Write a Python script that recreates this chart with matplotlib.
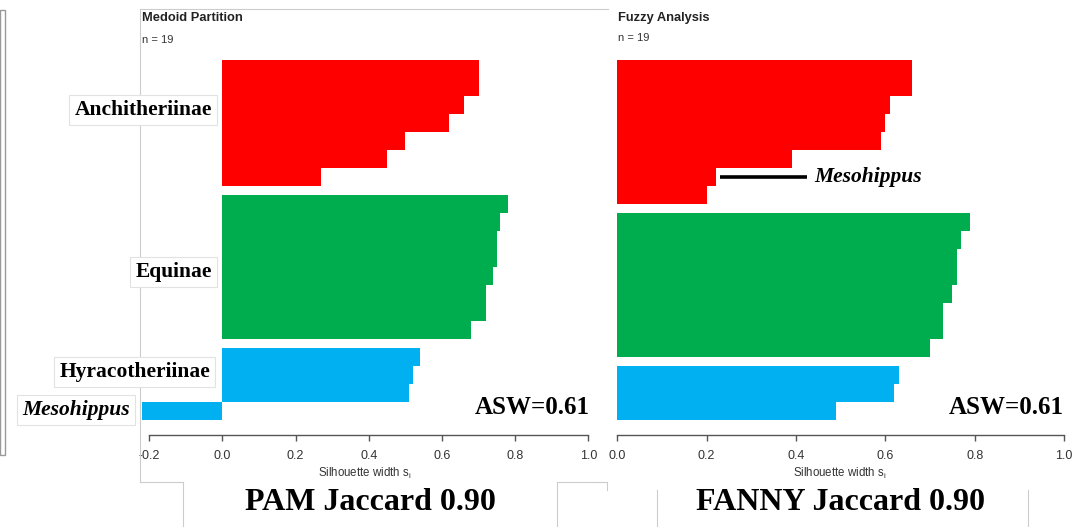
import matplotlib
matplotlib.use("Agg")
import matplotlib.pyplot as plt
from matplotlib.lines import Line2D

# silhouette widths, per cluster, top to bottom
pam_anchi = [0.70, 0.70, 0.66, 0.62, 0.50, 0.45, 0.27]
pam_equi = [0.78, 0.76, 0.75, 0.75, 0.74, 0.72, 0.72, 0.68]
pam_hyra = [0.54, 0.52, 0.51, -0.22]

fanny_anchi = [0.66, 0.66, 0.61, 0.60, 0.59, 0.39, 0.22, 0.20]
fanny_equi = [0.79, 0.77, 0.76, 0.76, 0.75, 0.73, 0.73, 0.70]
fanny_hyra = [0.63, 0.62, 0.49]

cluster_colors = ["#FF0000", "#00AD4E", "#00B0F0"]
ticks_pam = [-0.2, 0.0, 0.2, 0.4, 0.6, 0.8, 1.0]
ticks_fanny = [0.0, 0.2, 0.4, 0.6, 0.8, 1.0]

W, H = 1082, 527
fig = plt.figure(figsize=(W / 100, H / 100), dpi=100)

serif = "Liberation Serif"
sans = "Liberation Sans"


def px(x, y):
    return x / W, 1 - y / H


def box(x0, x1, y_top, y_bot):
    return [x0 / W, 1 - y_bot / H, (x1 - x0) / W, (y_bot - y_top) / H]


def sil_plot(ax, groups, xlim, ticks):
    y = 0
    for vals, col in zip(groups, cluster_colors):
        pos = [y + i + 0.5 for i in range(len(vals))]
        ax.barh(pos, vals, height=1.0, color=col, linewidth=0)
        y += len(vals) + 0.5
    ax.set_xlim(*xlim)
    ax.set_ylim(20.833, -0.556)
    for s in ["top", "right", "left"]:
        ax.spines[s].set_visible(False)
    ax.spines["bottom"].set_bounds(ticks[0], ticks[-1])
    ax.spines["bottom"].set_color("#555555")
    ax.spines["bottom"].set_linewidth(1.0)
    ax.set_yticks([])
    ax.set_xticks(ticks)
    ax.set_xticklabels(["%.1f" % t for t in ticks], fontfamily=sans, fontsize=9, color="#333333")
    ax.tick_params(axis="x", direction="out", length=4, width=1.0, color="#555555", pad=7)
    ax.patch.set_alpha(0)


# PAM panel
ax1 = fig.add_axes(box(130.8, 588.3, 50, 435))
sil_plot(ax1, [pam_anchi, pam_equi, pam_hyra], (-0.25, 1.0), ticks_pam)

# FANNY panel
ax2 = fig.add_axes(box(617.3, 1064, 50, 435))
sil_plot(ax2, [fanny_anchi, fanny_equi, fanny_hyra], (0.0, 1.0), ticks_fanny)

# mesohippus pointer in fanny panel
meso_y = len(fanny_anchi) - 1.5
meso_x = fanny_anchi[-2] + 0.01
ax2.plot([meso_x, meso_x + 0.195], [meso_y, meso_y], color="black", lw=2.6, solid_capstyle="butt")
ax2.text(meso_x + 0.21, meso_y, "Mesohippus", fontfamily=serif, fontstyle="italic",
         fontweight="bold", fontsize=15.5, va="center", ha="left")

# panel headers
fig.text(*px(142, 18), "Medoid Partition", fontfamily=sans, fontweight="bold", fontsize=9.3,
         color="#222222", va="center", ha="left")
fig.text(*px(142, 40), "n = 19", fontfamily=sans, fontsize=8, color="#333333", va="center", ha="left")
fig.text(*px(618, 18), "Fuzzy Analysis", fontfamily=sans, fontweight="bold", fontsize=9.3,
         color="#222222", va="center", ha="left")
fig.text(*px(618, 38), "n = 19", fontfamily=sans, fontsize=8, color="#333333", va="center", ha="left")

# axis titles
for xc in (365, 840):
    fig.text(*px(xc, 473), r"Silhouette width s$_\mathregular{i}$", fontfamily=sans, fontsize=8.3,
             color="#333333", ha="center", va="center")

# ASW
fig.text(*px(590, 408), "ASW=0.61", fontfamily=serif, fontweight="bold", fontsize=18,
         ha="right", va="center")
fig.text(*px(1064, 408), "ASW=0.61", fontfamily=serif, fontweight="bold", fontsize=18,
         ha="right", va="center")

# screenshot frame lines
frame_col = "#cccccc"
frame_lines = [
    ((140, 600), (9, 9)), ((140, 140), (9, 482)), ((140, 183), (482, 482)), ((183, 183), (482, 527)),
    ((557, 600), (482, 482)), ((557, 557), (482, 527)),
    ((600, 608), (9, 9)), ((600, 607), (482, 482)), ((607, 607), (482, 490)),
    ((657, 657), (490, 527)), ((1028, 1028), (490, 527)),
]
for xs, ys in frame_lines:
    fig.add_artist(Line2D([x / W for x in xs], [1 - y / H for y in ys], color=frame_col, lw=0.8))

# left edge box
fig.add_artist(plt.Rectangle(px(0, 455), 5 / W, 445 / H, transform=fig.transFigure,
                             fill=False, ec="#999999", lw=1.0))

# group labels
lab_box = dict(boxstyle="square,pad=0.25", fc="white", ec="#e2e2e2", lw=0.8)
fig.text(*px(212, 110), "Anchitheriinae", fontfamily=serif, fontweight="bold", fontsize=15.5,
         ha="right", va="center", bbox=lab_box)
fig.text(*px(212, 272), "Equinae", fontfamily=serif, fontweight="bold", fontsize=15.5,
         ha="right", va="center", bbox=lab_box)
fig.text(*px(210, 372), "Hyracotheriinae", fontfamily=serif, fontweight="bold", fontsize=15.5,
         ha="right", va="center", bbox=lab_box)
fig.text(*px(22, 410), "Mesohippus", fontfamily=serif, fontweight="bold", fontstyle="italic",
         fontsize=15.5, ha="left", va="center", bbox=lab_box)

# bottom captions
fig.text(*px(370, 502), "PAM Jaccard 0.90", fontfamily=serif, fontweight="bold", fontsize=23,
         ha="center", va="center")
fig.text(*px(841, 502), "FANNY Jaccard 0.90", fontfamily=serif, fontweight="bold", fontsize=23,
         ha="center", va="center")

fig.savefig("out.png", dpi=100)
